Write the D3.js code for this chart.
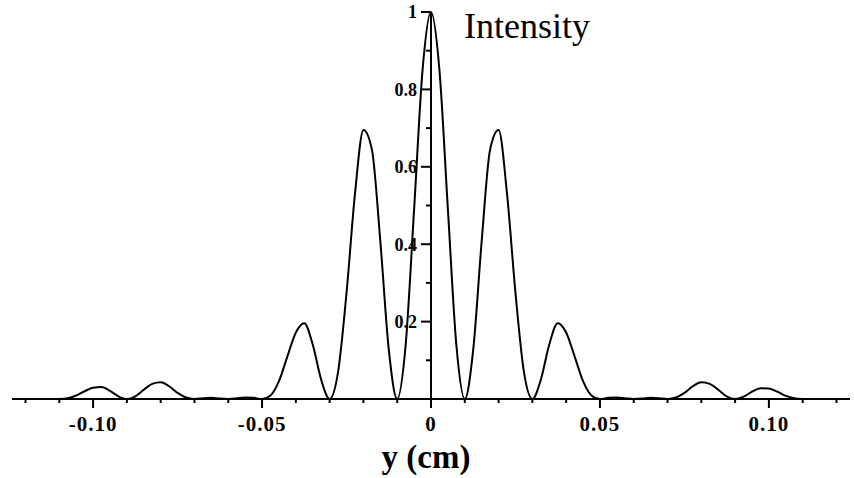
<!DOCTYPE html>
<html>
<head>
<meta charset="utf-8">
<script src="https://cdn.jsdelivr.net/npm/d3@7"></script>
<style>
  html, body { margin: 0; padding: 0; background: #fff; }
  svg { display: block; }
  text { font-family: "Liberation Serif", "Times New Roman", serif; fill: #000; }
</style>
</head>
<body>
<svg id="chart" width="854" height="478"></svg>
<script>
// ---- Data ----
const positions = [
  -0.110, -0.1075, -0.105, -0.1025, -0.100, -0.0975, -0.095, -0.0925, -0.090,
  -0.0875, -0.085, -0.0825, -0.080, -0.0775, -0.075, -0.0725, -0.070,
  -0.0675, -0.065, -0.0625, -0.060, -0.0575, -0.055, -0.0525, -0.050,
  -0.0475, -0.045, -0.0425, -0.040, -0.0375, -0.035, -0.0325, -0.030,
  -0.0275, -0.025, -0.0225, -0.020, -0.0175, -0.015, -0.0125, -0.010,
  -0.0075, -0.005, -0.0025, 0.000, 0.0025, 0.005, 0.0075, 0.010,
  0.0125, 0.015, 0.0175, 0.020, 0.0225, 0.025, 0.0275, 0.030,
  0.0325, 0.035, 0.0375, 0.040, 0.0425, 0.045, 0.0475, 0.050,
  0.0525, 0.055, 0.0575, 0.060, 0.0625, 0.065, 0.0675, 0.070,
  0.0725, 0.075, 0.0775, 0.080, 0.0825, 0.085, 0.0875, 0.090,
  0.0925, 0.095, 0.0975, 0.100, 0.1025, 0.105, 0.1075, 0.110
];
const intensity = [
  0.000, 0.002, 0.009, 0.020, 0.029, 0.031, 0.021, 0.007, 0.000,
  0.007, 0.024, 0.039, 0.043, 0.033, 0.016, 0.004, 0.000,
  0.002, 0.003, 0.001, 0.000, 0.002, 0.004, 0.003, 0.000,
  0.009, 0.046, 0.110, 0.172, 0.196, 0.141, 0.050, 0.000,
  0.070, 0.274, 0.530, 0.695, 0.645, 0.408, 0.128, 0.000,
  0.140, 0.490, 0.850, 1.000, 0.850, 0.490, 0.140, 0.000,
  0.128, 0.408, 0.645, 0.695, 0.530, 0.274, 0.070, 0.000,
  0.050, 0.141, 0.196, 0.172, 0.110, 0.046, 0.009, 0.000,
  0.003, 0.004, 0.002, 0.000, 0.001, 0.003, 0.002, 0.000,
  0.004, 0.016, 0.033, 0.043, 0.039, 0.024, 0.007, 0.000,
  0.006, 0.019, 0.028, 0.027, 0.019, 0.008, 0.002, 0.000
];
const xMajorTicks = [-0.10, -0.05, 0, 0.05, 0.10];
const xTickLabels = ["-0.10", "-0.05", "0", "0.05", "0.10"];
const xMinorTicks = [-0.12, -0.11, -0.09, -0.08, -0.07, -0.06, -0.04, -0.03, -0.02, -0.01,
                     0.01, 0.02, 0.03, 0.04, 0.06, 0.07, 0.08, 0.09, 0.11, 0.12];
const yMajorTicks = [0.2, 0.4, 0.6, 0.8, 1];
const yTickLabels = ["0.2", "0.4", "0.6", "0.8", "1"];
const yMinorTicks = [0.1, 0.3, 0.5, 0.7, 0.9];
const xTitle = "y (cm)";
const yTitle = "Intensity";

// ---- Drawing ----
const svg = d3.select("#chart");
const x = d3.scaleLinear().domain([-0.124, 0.124]).range([12, 850]);
const y = d3.scaleLinear().domain([0, 1]).range([399, 12]);

const data = positions.map((p, i) => ({ p, v: intensity[i] }));

// x axis line
svg.append("line")
  .attr("x1", x.range()[0]).attr("x2", x.range()[1])
  .attr("y1", y(0)).attr("y2", y(0))
  .attr("stroke", "#000").attr("stroke-width", 2);

// x minor ticks
svg.append("g").selectAll("line").data(xMinorTicks).join("line")
  .attr("x1", d => x(d)).attr("x2", d => x(d))
  .attr("y1", y(0)).attr("y2", y(0) + 4)
  .attr("stroke", "#000").attr("stroke-width", 2);

// x major ticks
svg.append("g").selectAll("line").data(xMajorTicks).join("line")
  .attr("x1", d => x(d)).attr("x2", d => x(d))
  .attr("y1", y(0)).attr("y2", y(0) + 9)
  .attr("stroke", "#000").attr("stroke-width", 2);

// x tick labels
svg.append("g").selectAll("text").data(xMajorTicks).join("text")
  .attr("x", d => x(d)).attr("y", 431)
  .attr("text-anchor", "middle")
  .attr("font-size", 21).attr("font-weight", "bold")
  .attr("letter-spacing", "1px")
  .text((d, i) => xTickLabels[i]);

// y axis line
svg.append("line")
  .attr("x1", x(0)).attr("x2", x(0))
  .attr("y1", y(1)).attr("y2", y(0) + 7)
  .attr("stroke", "#000").attr("stroke-width", 2);

// y minor ticks
svg.append("g").selectAll("line").data(yMinorTicks).join("line")
  .attr("x1", x(0) - 5).attr("x2", x(0))
  .attr("y1", d => y(d)).attr("y2", d => y(d))
  .attr("stroke", "#000").attr("stroke-width", 2);

// y major ticks
svg.append("g").selectAll("line").data(yMajorTicks).join("line")
  .attr("x1", x(0) - 10).attr("x2", x(0))
  .attr("y1", d => y(d)).attr("y2", d => y(d))
  .attr("stroke", "#000").attr("stroke-width", 2);

// y tick labels
svg.append("g").selectAll("text").data(yMajorTicks).join("text")
  .attr("x", x(0) - 14).attr("y", d => y(d))
  .attr("dy", "0.35em")
  .attr("text-anchor", "end")
  .attr("font-size", 18).attr("font-weight", "bold")
  .text((d, i) => yTickLabels[i]);

// curve
const line = d3.line()
  .x(d => x(d.p))
  .y(d => y(d.v))
  .curve(d3.curveMonotoneX);

svg.append("path")
  .datum(data)
  .attr("d", line)
  .attr("fill", "none")
  .attr("stroke", "#000")
  .attr("stroke-width", 2)
  .attr("stroke-linejoin", "round");

// titles
svg.append("text")
  .attr("x", 426).attr("y", 468)
  .attr("text-anchor", "middle")
  .attr("font-size", 33).attr("font-weight", "bold")
  .text(xTitle);

svg.append("text")
  .attr("x", 464).attr("y", 38)
  .attr("font-size", 36)
  .text(yTitle);
</script>
</body>
</html>
